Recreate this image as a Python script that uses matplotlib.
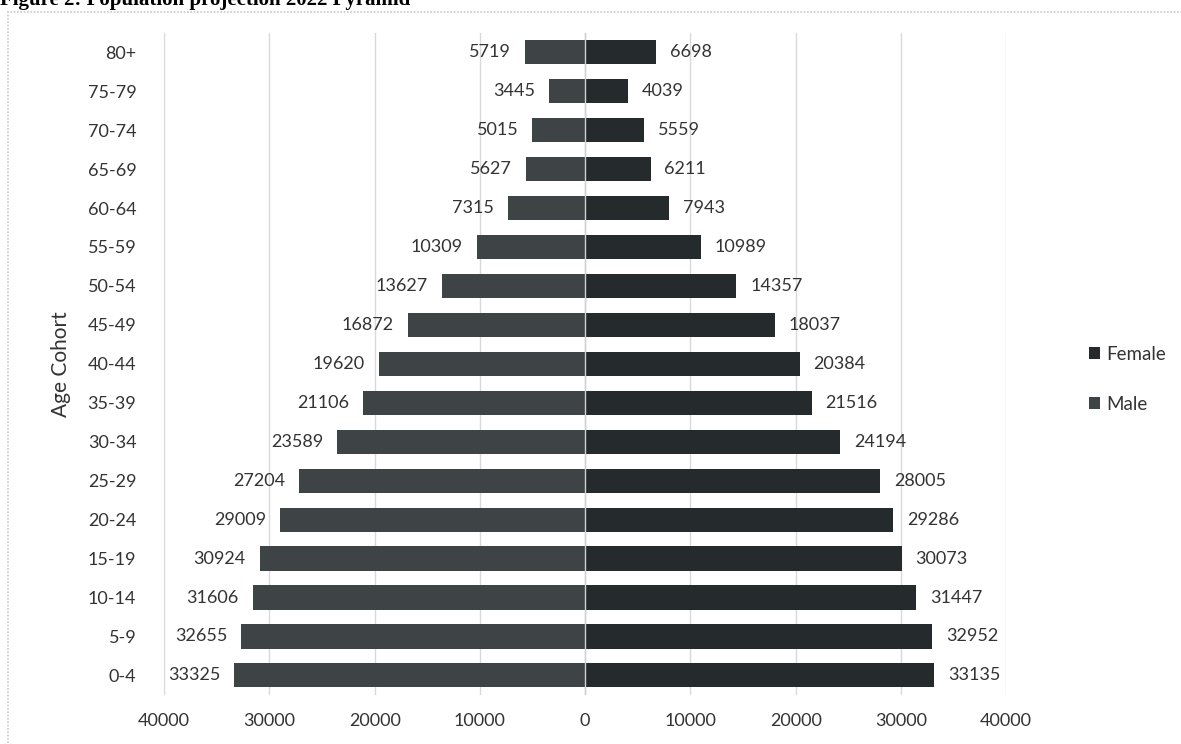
import matplotlib.pyplot as plt
from matplotlib.patches import Rectangle

# age groups, bottom to top
cohorts = ["0-4", "5-9", "10-14", "15-19", "20-24", "25-29", "30-34", "35-39",
           "40-44", "45-49", "50-54", "55-59", "60-64", "65-69", "70-74", "75-79", "80+"]
male = [33325, 32655, 31606, 30924, 29009, 27204, 23589, 21106,
        19620, 16872, 13627, 10309, 7315, 5627, 5015, 3445, 5719]
female = [33135, 32952, 31447, 30073, 29286, 28005, 24194, 21516,
          20384, 18037, 14357, 10989, 7943, 6211, 5559, 4039, 6698]
xticks = [-40000, -30000, -20000, -10000, 0, 10000, 20000, 30000, 40000]

plt.rcParams['font.family'] = ['Lato', 'DejaVu Sans']
txt = '#333333'

fig = plt.figure(figsize=(11.81, 7.44), dpi=100)
ax = fig.add_axes([0.139, 0.066, 0.713, 0.890])

ypos = range(len(cohorts))
fbars = ax.barh(ypos, female, height=0.62, color='#252b2c', label='Female', zorder=3)
mbars = ax.barh(ypos, [-m for m in male], height=0.62, color='#3e4446', label='Male', zorder=3)

ax.bar_label(fbars, labels=[str(v) for v in female], padding=10, fontsize=13, color=txt)
ax.bar_label(mbars, labels=[str(v) for v in male], padding=10, fontsize=13, color=txt)

ax.set_xlim(-40000, 40000)
ax.set_ylim(-0.5, len(cohorts) - 0.5)
ax.set_xticks(xticks)
ax.set_xticklabels([str(abs(t)) for t in xticks], fontsize=13, color=txt)
ax.set_yticks(list(ypos))
ax.set_yticklabels(cohorts, fontsize=13, color=txt)
ax.tick_params(length=0)
ax.tick_params(axis='y', pad=20)
ax.tick_params(axis='x', pad=13)
ax.grid(axis='x', color='#d9d9d9', lw=1, zorder=0)
ax.axvline(0, color='#d0d0d0', lw=1, zorder=4)
for s in ax.spines.values():
    s.set_visible(False)

ax.set_ylabel('Age Cohort', fontsize=15, color=txt, labelpad=12)

handles = [fbars, mbars]
fig.legend(handles, ['Female', 'Male'], loc='center left', bbox_to_anchor=(0.908, 0.49),
           frameon=False, fontsize=13.5, labelspacing=1.75, handlelength=0.6,
           handleheight=0.6, handletextpad=0.3, labelcolor=txt)

# page frame and clipped caption
fig.patches.append(Rectangle((0.007, -0.01), 1.0, 1 - 12 / 744 + 0.01,
                             transform=fig.transFigure, fill=False,
                             ec='#c8c8c8', lw=1.2, ls=(0, (1, 1))))
fig.text(0.0, 1 - 5 / 744, 'Figure 2: Population projection 2022 Pyramid',
         family='Liberation Serif', weight='bold', fontsize=15, va='baseline', ha='left')

fig.savefig('out.png', dpi=100)
